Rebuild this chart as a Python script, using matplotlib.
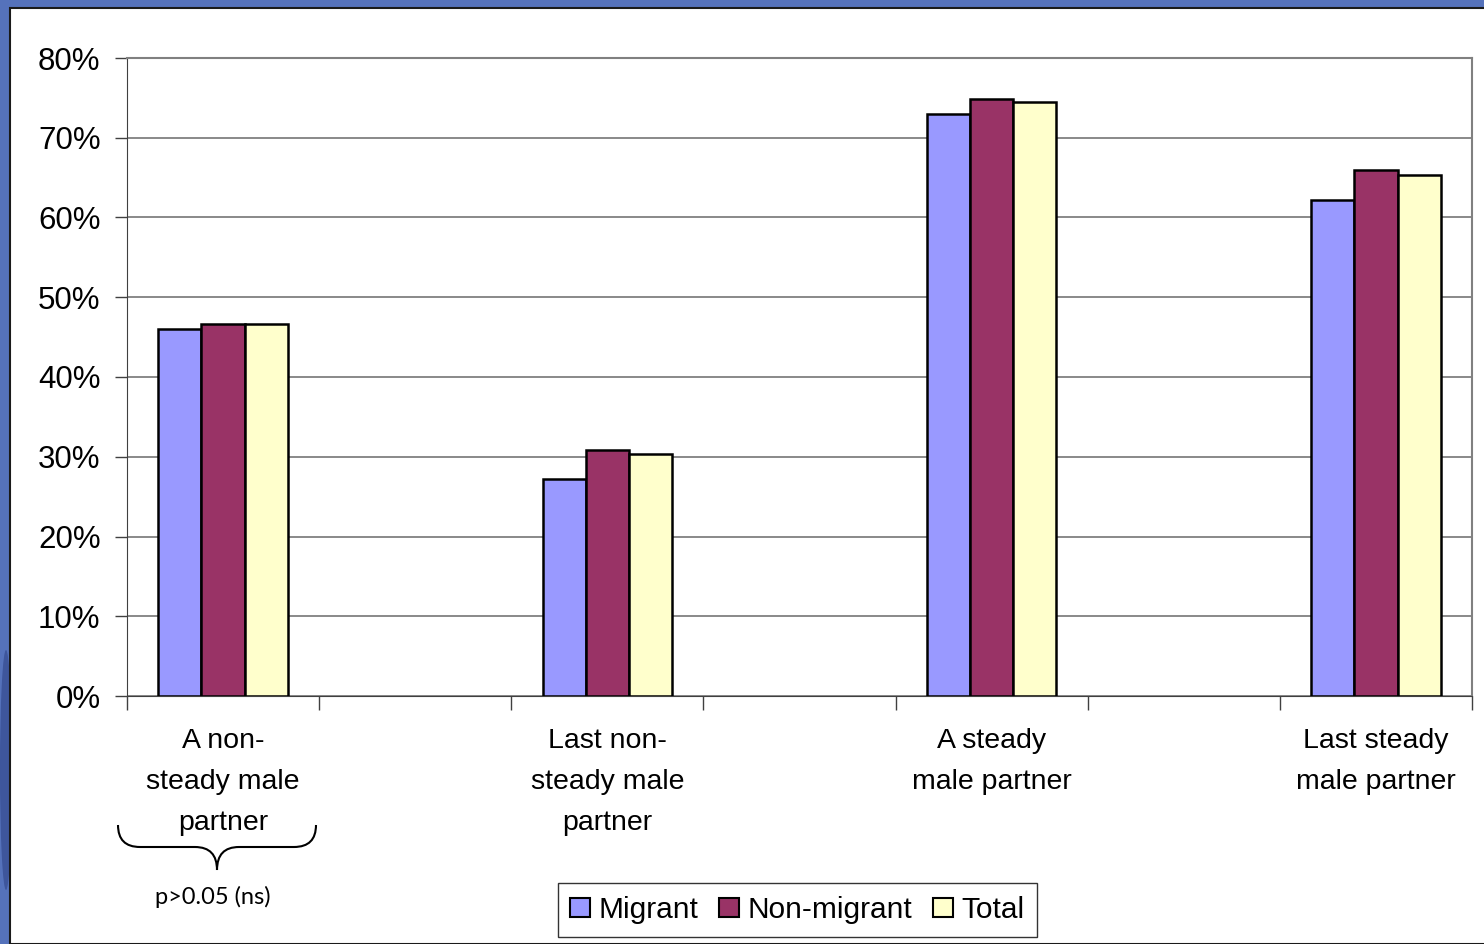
import matplotlib
matplotlib.use("Agg")
import matplotlib.pyplot as plt
from matplotlib.patches import Patch, Rectangle, PathPatch, Ellipse
from matplotlib.path import Path
import numpy as np

plt.rcParams["font.family"] = ["Liberation Sans", "DejaVu Sans"]

categories = ["A non-\nsteady male\npartner", "Last non-\nsteady male\npartner",
              "A steady\nmale partner", "Last steady\nmale partner"]
series = ["Migrant", "Non-migrant", "Total"]
migrant = [46.0, 27.2, 73.0, 62.2]
non_migrant = [46.6, 30.8, 74.9, 66.0]
total = [46.6, 30.3, 74.5, 65.3]
colors = ["#9999FF", "#993366", "#FFFFCC"]
yticks = [0, 10, 20, 30, 40, 50, 60, 70, 80]

W, H = 1484, 944
fig = plt.figure(figsize=(W / 100, H / 100), dpi=100)
fig.patch.set_facecolor("#5572BB")


def fx(x):
    return x / W


def fy(y):
    return 1 - y / H


# darker shading on the slide edge
fig.add_artist(Ellipse((fx(6), fy(770)), 12 / W, 240 / H, transform=fig.transFigure,
                       facecolor="#3E569C", edgecolor="none", zorder=-6))
# white slide panel, behind the axes
fig.add_artist(Rectangle((10 / W, 0), 1, 1 - 8 / H, transform=fig.transFigure,
                         facecolor="white", edgecolor="#1a1a1a", linewidth=1.5,
                         zorder=-5))

ax = fig.add_axes([127 / W, 1 - 696 / H, (1472 - 127) / W, (696 - 58) / H])
ax.set_facecolor("white")

# empty category slots between the groups
pos = np.arange(len(categories)) * 2
width = 0.225
for i, (vals, c, name) in enumerate(zip([migrant, non_migrant, total], colors, series)):
    ax.bar(pos + (i - 1) * width, vals, width, color=c, edgecolor="black",
           linewidth=1.8, label=name, zorder=3)

ax.set_ylim(0, 80)
ax.set_xlim(-0.5, 6.5)
ax.set_yticks(yticks)
ax.set_yticklabels([f"{v}%" for v in yticks], fontsize=22.5)
ax.yaxis.grid(True, color="#808080", linewidth=1.3, zorder=0)
ax.set_axisbelow(True)
ax.tick_params(axis="y", length=9, width=1, color="#404040", pad=10)

ax.set_xticks(pos)
ax.set_xticklabels(categories, fontsize=20.5, linespacing=1.76)
ax.set_xticks(np.arange(-0.5, 7, 1), minor=True)
ax.tick_params(axis="x", which="major", length=0, pad=23)
ax.tick_params(axis="x", which="minor", length=10, width=1, color="#404040")

for side in ["top", "right"]:
    ax.spines[side].set_color("#808080")
    ax.spines[side].set_linewidth(1.5)
ax.spines["left"].set_color("#404040")
ax.spines["bottom"].set_color("#404040")

# curly brace under the first group
verts = [(118, 825), (118, 847), (140, 847),
         (195, 847),
         (217, 847), (217, 870),
         (217, 847), (239, 847),
         (294, 847),
         (316, 847), (316, 825)]
codes = [Path.MOVETO, Path.CURVE3, Path.CURVE3,
         Path.LINETO,
         Path.CURVE3, Path.CURVE3,
         Path.CURVE3, Path.CURVE3,
         Path.LINETO,
         Path.CURVE3, Path.CURVE3]
brace = Path([(fx(x), fy(y)) for x, y in verts], codes)
fig.add_artist(PathPatch(brace, transform=fig.transFigure, facecolor="none",
                         edgecolor="black", linewidth=1.5))
fig.text(fx(213), fy(897), "p>0.05 (ns)", ha="center", va="center", fontsize=17,
         family=["Lato", "DejaVu Sans"])

handles = [Patch(facecolor=c, edgecolor="black", linewidth=1.5) for c in colors]
leg = fig.legend(handles, series, loc="center", bbox_to_anchor=(797.5 / W, 1 - 910 / H),
                 ncol=3, fontsize=21.5, frameon=True, fancybox=False, handlelength=0.65,
                 handleheight=0.65, handletextpad=0.3, columnspacing=0.7,
                 borderpad=0.42, borderaxespad=0)
leg.get_frame().set_edgecolor("black")
leg.get_frame().set_linewidth(1)

fig.savefig("out.png", dpi=100, facecolor=fig.get_facecolor())
